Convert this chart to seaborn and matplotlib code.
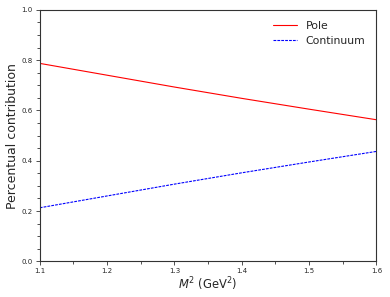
import numpy as np
import pandas as pd
import matplotlib
matplotlib.use("Agg")
import matplotlib.pyplot as plt
import seaborn as sns
from matplotlib.ticker import MultipleLocator

m2 = [1.1, 1.2, 1.3, 1.4, 1.5, 1.6]
pole = [0.787, 0.740, 0.693, 0.648, 0.605, 0.563]
continuum = [1 - p for p in pole]

sns.set_style("white")
plt.rcParams['font.family'] = ['DejaVu Sans']

df = pd.DataFrame({"M2": m2 * 2, "val": pole + continuum,
                   "kind": ["Pole"] * len(m2) + ["Continuum"] * len(m2)})

fig, ax = plt.subplots(figsize=(3.9, 2.97), dpi=100)
sns.lineplot(data=df[df.kind == "Pole"], x="M2", y="val", color="red", lw=0.8, ax=ax, label="Pole")
sns.lineplot(data=df[df.kind == "Continuum"], x="M2", y="val", color="blue", lw=0.8,
             linestyle=(0, (2.5, 1)), ax=ax, label="Continuum")
ax.set_xlim(1.1, 1.6)
ax.set_ylim(0, 1.0)
ax.xaxis.set_major_locator(MultipleLocator(0.1))
ax.xaxis.set_minor_locator(MultipleLocator(0.05))
ax.yaxis.set_major_locator(MultipleLocator(0.2))
ax.yaxis.set_minor_locator(MultipleLocator(0.05))
ax.tick_params(which='both', direction='out', bottom=True, left=True, labelsize=5, color='#333333', width=0.6, pad=2)
ax.tick_params(which='major', length=3)
ax.tick_params(which='minor', length=2)
for s in ax.spines.values():
    s.set_color('#333333')
    s.set_linewidth(0.8)
ax.set_xlabel("$M^2$ (GeV$^2$)", fontsize=8.3, labelpad=1)
ax.set_ylabel("Percentual contribution", fontsize=9, labelpad=2)
ax.legend(frameon=False, fontsize=7.8, loc='upper right', handlelength=2.2, borderaxespad=0.6)
fig.subplots_adjust(left=0.102, right=0.965, top=0.967, bottom=0.12)
fig.savefig("out.png", dpi=100)
